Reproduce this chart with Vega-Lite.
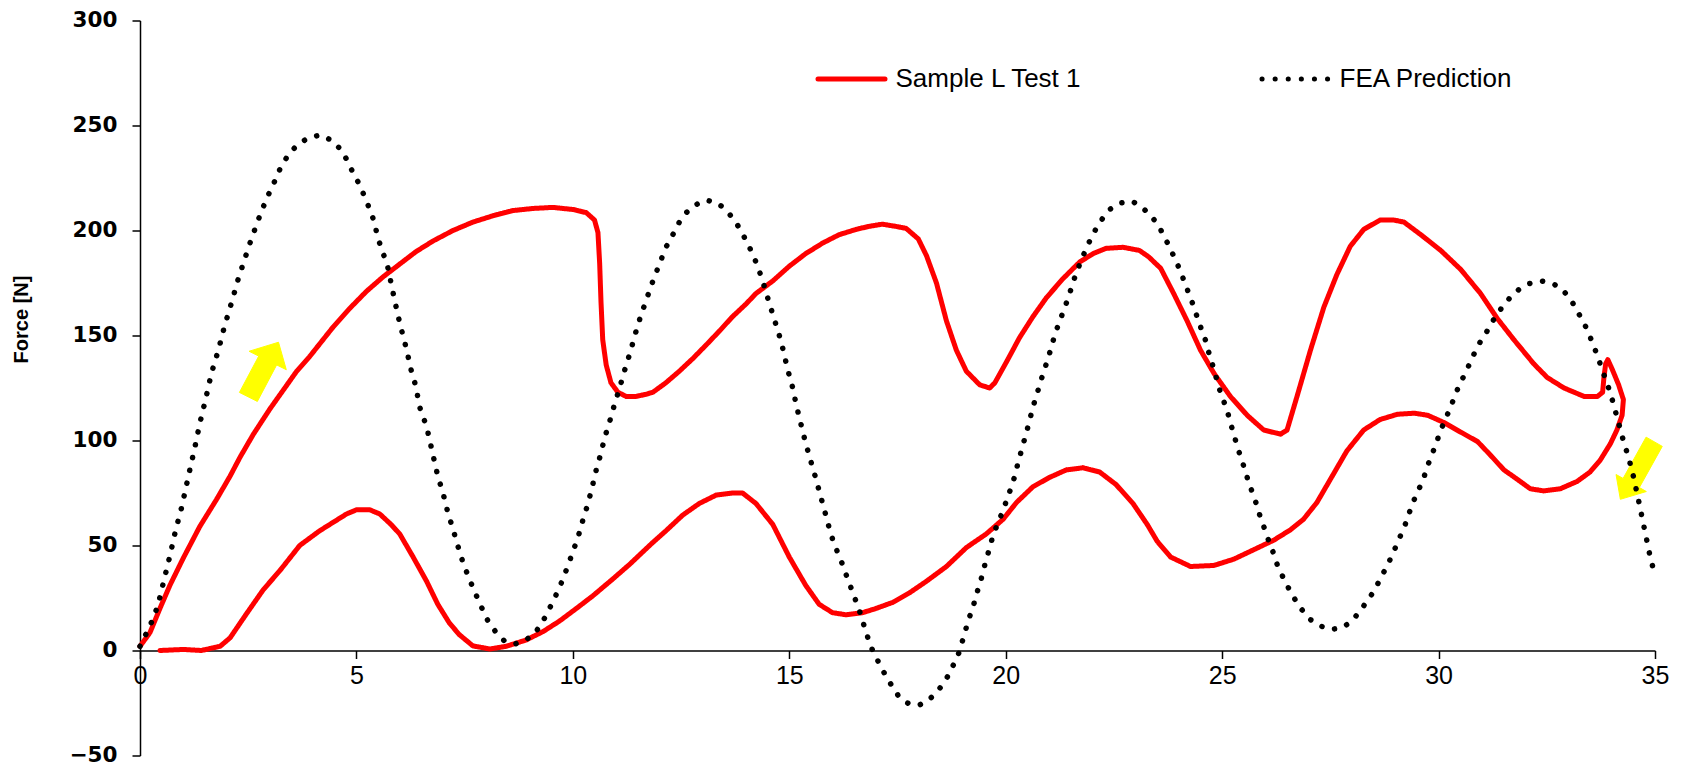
{
  "$schema": "https://vega.github.io/schema/vega-lite/v6.json",
  "width": 1515,
  "height": 735,
  "autosize": {"type": "none"},
  "padding": {"left": 140, "top": 20.5, "right": 36, "bottom": 23.5},
  "background": "white",
  "config": {"view": {"stroke": null}, "font": "Liberation Sans"},
  "datasets": {
    "red": [
      {"t":1,"x":0,"y":2},{"t":2,"x":0.23,"y":8.5},{"t":3,"x":0.46,"y":20},{"t":4,"x":0.69,"y":31},{"t":5,"x":1.0,"y":44},
      {"t":6,"x":1.38,"y":59},{"t":7,"x":1.77,"y":72},{"t":8,"x":2.08,"y":83},{"t":9,"x":2.31,"y":92},{"t":10,"x":2.62,"y":103},
      {"t":11,"x":3.0,"y":115},{"t":12,"x":3.31,"y":124},{"t":13,"x":3.62,"y":133},{"t":14,"x":3.92,"y":140},{"t":15,"x":4.19,"y":147},
      {"t":16,"x":4.46,"y":154},{"t":17,"x":4.85,"y":163},{"t":18,"x":5.23,"y":171},{"t":19,"x":5.62,"y":178},{"t":20,"x":6.0,"y":184},
      {"t":21,"x":6.38,"y":190},{"t":22,"x":6.77,"y":195},{"t":23,"x":7.23,"y":200},{"t":24,"x":7.69,"y":204},{"t":25,"x":8.15,"y":207},
      {"t":26,"x":8.62,"y":209.5},{"t":27,"x":9.08,"y":210.5},{"t":28,"x":9.54,"y":211},{"t":29,"x":10.0,"y":210},{"t":30,"x":10.31,"y":208.5},
      {"t":31,"x":10.5,"y":205},{"t":32,"x":10.58,"y":199},{"t":33,"x":10.62,"y":184},{"t":34,"x":10.65,"y":166},{"t":35,"x":10.69,"y":148},
      {"t":36,"x":10.77,"y":136},{"t":37,"x":10.88,"y":127.5},{"t":38,"x":11.04,"y":123},{"t":39,"x":11.23,"y":121},{"t":40,"x":11.46,"y":121},
      {"t":41,"x":11.69,"y":122},{"t":42,"x":11.85,"y":123},{"t":43,"x":12.15,"y":127.5},{"t":44,"x":12.46,"y":133},{"t":45,"x":12.77,"y":139},
      {"t":46,"x":13.08,"y":145.5},{"t":47,"x":13.38,"y":152},{"t":48,"x":13.69,"y":159},{"t":49,"x":14.0,"y":165},{"t":50,"x":14.23,"y":170},
      {"t":51,"x":14.62,"y":176},{"t":52,"x":15.0,"y":183},{"t":53,"x":15.38,"y":189},{"t":54,"x":15.77,"y":194},{"t":55,"x":16.15,"y":198},
      {"t":56,"x":16.54,"y":200.5},{"t":57,"x":16.85,"y":202},{"t":58,"x":17.15,"y":203},{"t":59,"x":17.45,"y":202},{"t":60,"x":17.7,"y":201},
      {"t":61,"x":17.98,"y":196},{"t":62,"x":18.17,"y":188},{"t":63,"x":18.4,"y":175},{"t":64,"x":18.63,"y":157},{"t":65,"x":18.86,"y":143},
      {"t":66,"x":19.09,"y":133},{"t":67,"x":19.4,"y":126.5},{"t":68,"x":19.63,"y":125},{"t":69,"x":19.75,"y":127.5},{"t":70,"x":20.02,"y":137.5},
      {"t":71,"x":20.32,"y":149},{"t":72,"x":20.63,"y":159},{"t":73,"x":20.94,"y":168},{"t":74,"x":21.32,"y":177},{"t":75,"x":21.71,"y":185},
      {"t":76,"x":22.02,"y":189},{"t":77,"x":22.32,"y":191.5},{"t":78,"x":22.71,"y":192},{"t":79,"x":23.09,"y":190.5},{"t":80,"x":23.3,"y":187.5},
      {"t":81,"x":23.58,"y":182},{"t":82,"x":23.88,"y":170},{"t":83,"x":24.19,"y":157},{"t":84,"x":24.5,"y":143},{"t":85,"x":24.81,"y":132},
      {"t":86,"x":25.19,"y":121},{"t":87,"x":25.58,"y":112},{"t":88,"x":25.96,"y":105},{"t":89,"x":26.35,"y":103},{"t":90,"x":26.5,"y":105},
      {"t":91,"x":26.73,"y":121},{"t":92,"x":27.04,"y":143},{"t":93,"x":27.35,"y":163.5},{"t":94,"x":27.65,"y":179},{"t":95,"x":27.96,"y":192.5},
      {"t":96,"x":28.27,"y":200.5},{"t":97,"x":28.65,"y":205},{"t":98,"x":28.96,"y":205},{"t":99,"x":29.2,"y":204},{"t":100,"x":29.59,"y":198},
      {"t":101,"x":30.05,"y":190.5},{"t":102,"x":30.51,"y":181.5},{"t":103,"x":30.97,"y":170},{"t":104,"x":31.36,"y":158},{"t":105,"x":31.74,"y":148},
      {"t":106,"x":32.2,"y":136.5},{"t":107,"x":32.51,"y":130},{"t":108,"x":32.9,"y":125},{"t":109,"x":33.36,"y":121},{"t":110,"x":33.67,"y":121},
      {"t":111,"x":33.79,"y":123},{"t":112,"x":33.82,"y":130},{"t":113,"x":33.86,"y":136.5},{"t":114,"x":33.91,"y":138.5},{"t":115,"x":34.01,"y":134},
      {"t":116,"x":34.16,"y":126.5},{"t":117,"x":34.27,"y":119.5},{"t":118,"x":34.24,"y":112},{"t":119,"x":34.12,"y":105},{"t":120,"x":33.97,"y":98.5},
      {"t":121,"x":33.73,"y":90.5},{"t":122,"x":33.5,"y":85},{"t":123,"x":33.2,"y":80.5},{"t":124,"x":32.81,"y":77},{"t":125,"x":32.43,"y":76},
      {"t":126,"x":32.12,"y":77},{"t":127,"x":31.82,"y":81.5},{"t":128,"x":31.51,"y":86},{"t":129,"x":31.2,"y":93},{"t":130,"x":30.9,"y":99.5},
      {"t":131,"x":30.51,"y":104},{"t":132,"x":30.13,"y":108.5},{"t":133,"x":29.75,"y":112},{"t":134,"x":29.44,"y":113},{"t":135,"x":29.05,"y":112.5},
      {"t":136,"x":28.65,"y":110},{"t":137,"x":28.27,"y":105},{"t":138,"x":27.88,"y":95},{"t":139,"x":27.5,"y":81.5},{"t":140,"x":27.19,"y":70.5},
      {"t":141,"x":26.88,"y":62.5},{"t":142,"x":26.58,"y":57.5},{"t":143,"x":26.19,"y":52.5},{"t":144,"x":25.73,"y":48},{"t":145,"x":25.27,"y":43.5},
      {"t":146,"x":24.81,"y":40.5},{"t":147,"x":24.27,"y":40},{"t":148,"x":23.81,"y":44.5},{"t":149,"x":23.5,"y":52},{"t":150,"x":23.27,"y":60},
      {"t":151,"x":22.94,"y":70},{"t":152,"x":22.55,"y":79},{"t":153,"x":22.17,"y":85},{"t":154,"x":21.78,"y":87},{"t":155,"x":21.4,"y":86},
      {"t":156,"x":21.02,"y":82.5},{"t":157,"x":20.63,"y":78},{"t":158,"x":20.25,"y":70.5},{"t":159,"x":19.94,"y":62.5},{"t":160,"x":19.55,"y":55.5},
      {"t":161,"x":19.09,"y":49},{"t":162,"x":18.63,"y":40},{"t":163,"x":18.17,"y":33},{"t":164,"x":17.78,"y":27.5},{"t":165,"x":17.4,"y":23},
      {"t":166,"x":17.0,"y":20},{"t":167,"x":16.69,"y":18},{"t":168,"x":16.31,"y":17},{"t":169,"x":16.0,"y":18},{"t":170,"x":15.69,"y":22},
      {"t":171,"x":15.38,"y":31},{"t":172,"x":15.0,"y":44.5},{"t":173,"x":14.62,"y":60},{"t":174,"x":14.23,"y":70},{"t":175,"x":13.92,"y":75},
      {"t":176,"x":13.69,"y":75},{"t":177,"x":13.31,"y":74},{"t":178,"x":12.92,"y":70},{"t":179,"x":12.54,"y":64.5},{"t":180,"x":12.15,"y":57},
      {"t":181,"x":11.85,"y":51.5},{"t":182,"x":11.54,"y":45.5},{"t":183,"x":11.31,"y":41},{"t":184,"x":10.92,"y":34},{"t":185,"x":10.46,"y":26},
      {"t":186,"x":10.08,"y":20},{"t":187,"x":9.69,"y":14},{"t":188,"x":9.31,"y":9},{"t":189,"x":8.92,"y":5},{"t":190,"x":8.46,"y":2},
      {"t":191,"x":8.08,"y":0.7},{"t":192,"x":7.69,"y":2.2},{"t":193,"x":7.38,"y":7.5},{"t":194,"x":7.15,"y":13},{"t":195,"x":6.88,"y":22},
      {"t":196,"x":6.62,"y":33},{"t":197,"x":6.31,"y":44.5},{"t":198,"x":6.0,"y":55.5},{"t":199,"x":5.8,"y":60},{"t":200,"x":5.54,"y":65},
      {"t":201,"x":5.31,"y":67},{"t":202,"x":5.0,"y":67},{"t":203,"x":4.77,"y":65},{"t":204,"x":4.46,"y":61},{"t":205,"x":4.15,"y":57},
      {"t":206,"x":3.69,"y":50},{"t":207,"x":3.23,"y":38},{"t":208,"x":2.85,"y":29},{"t":209,"x":2.46,"y":17.5},{"t":210,"x":2.08,"y":6},
      {"t":211,"x":1.85,"y":2},{"t":212,"x":1.42,"y":0},{"t":213,"x":1.0,"y":0.5},{"t":214,"x":0.46,"y":0}
    ],
    "fea": [
      {"x":0,"y":2},{"x":0.19,"y":10},{"x":0.32,"y":16},{"x":0.42,"y":22},{"x":0.56,"y":34},{"x":0.69,"y":45},{"x":0.82,"y":57},{"x":0.96,"y":68},
      {"x":1.14,"y":85},{"x":1.27,"y":97},{"x":1.38,"y":108},{"x":1.52,"y":120},{"x":1.65,"y":132},{"x":1.81,"y":143},{"x":1.96,"y":155},{"x":2.12,"y":166},
      {"x":2.27,"y":177},{"x":2.54,"y":194},{"x":2.73,"y":205},{"x":2.92,"y":215},{"x":3.08,"y":222},{"x":3.27,"y":231},{"x":3.46,"y":237},{"x":3.65,"y":241},
      {"x":3.88,"y":244},{"x":4.17,"y":245.5},{"x":4.42,"y":243},{"x":4.62,"y":239},{"x":4.77,"y":234},{"x":4.91,"y":228},{"x":5.04,"y":223},{"x":5.15,"y":218},
      {"x":5.27,"y":212},{"x":5.38,"y":206},{"x":5.52,"y":195},{"x":5.6,"y":190},{"x":5.71,"y":184},{"x":5.81,"y":174},{"x":5.88,"y":167},{"x":6.0,"y":156},
      {"x":6.15,"y":144},{"x":6.27,"y":133},{"x":6.37,"y":126},{"x":6.46,"y":116},{"x":6.58,"y":109},{"x":6.65,"y":104},{"x":6.77,"y":93},{"x":6.88,"y":83},
      {"x":7.0,"y":75},{"x":7.12,"y":65},{"x":7.23,"y":58},{"x":7.31,"y":52},{"x":7.46,"y":42},{"x":7.58,"y":35.5},{"x":7.71,"y":29},{"x":7.88,"y":21},
      {"x":8.04,"y":14},{"x":8.23,"y":8.5},{"x":8.42,"y":4.5},{"x":8.65,"y":3},{"x":8.92,"y":5},{"x":9.15,"y":9},{"x":9.31,"y":14},{"x":9.46,"y":20},
      {"x":9.58,"y":25},{"x":9.73,"y":32},{"x":9.88,"y":40},{"x":10.0,"y":47},{"x":10.12,"y":54},{"x":10.23,"y":62},{"x":10.35,"y":70},{"x":10.46,"y":79},
      {"x":10.54,"y":86},{"x":10.65,"y":94},{"x":10.73,"y":101},{"x":10.85,"y":109},{"x":10.96,"y":117},{"x":11.08,"y":125},{"x":11.19,"y":133},{"x":11.31,"y":141},
      {"x":11.42,"y":149},{"x":11.5,"y":155},{"x":11.68,"y":166},{"x":11.85,"y":176},{"x":12.0,"y":184},{"x":12.15,"y":192},{"x":12.31,"y":198},{"x":12.46,"y":204},
      {"x":12.62,"y":208.5},{"x":12.81,"y":212},{"x":13.08,"y":214.5},{"x":13.35,"y":213},{"x":13.55,"y":209.5},{"x":13.73,"y":205},{"x":13.88,"y":200},{"x":14.02,"y":194.5},
      {"x":14.15,"y":189},{"x":14.25,"y":184},{"x":14.37,"y":177},{"x":14.5,"y":168},{"x":14.62,"y":160},{"x":14.77,"y":150},{"x":14.86,"y":143},{"x":14.96,"y":134},
      {"x":15.08,"y":125},{"x":15.15,"y":118},{"x":15.23,"y":111},{"x":15.31,"y":104.5},{"x":15.38,"y":98.5},{"x":15.46,"y":93},{"x":15.54,"y":87},{"x":15.62,"y":81.5},
      {"x":15.69,"y":76},{"x":15.77,"y":70},{"x":15.85,"y":64},{"x":15.92,"y":58.5},{"x":16.0,"y":53},{"x":16.12,"y":46.5},{"x":16.23,"y":41},{"x":16.35,"y":34},
      {"x":16.46,"y":28},{"x":16.62,"y":19},{"x":16.77,"y":9},{"x":16.88,"y":2},{"x":17.0,"y":-3},{"x":17.12,"y":-8},{"x":17.27,"y":-13.5},{"x":17.42,"y":-18.5},
      {"x":17.55,"y":-22.5},{"x":17.78,"y":-25.6},{"x":18.0,"y":-26},{"x":18.2,"y":-24},{"x":18.4,"y":-20},{"x":18.55,"y":-16},{"x":18.67,"y":-12},{"x":18.8,"y":-6.5},
      {"x":18.92,"y":-1},{"x":19.05,"y":8},{"x":19.13,"y":14},{"x":19.25,"y":21},{"x":19.32,"y":26.5},{"x":19.42,"y":33},{"x":19.52,"y":41},{"x":19.63,"y":49},
      {"x":19.72,"y":55.7},{"x":19.85,"y":62},{"x":19.94,"y":67},{"x":20.05,"y":73},{"x":20.13,"y":78},{"x":20.21,"y":83},{"x":20.28,"y":89},{"x":20.36,"y":95},
      {"x":20.44,"y":101},{"x":20.52,"y":107},{"x":20.63,"y":116},{"x":20.72,"y":122},{"x":20.82,"y":129},{"x":20.9,"y":134},{"x":21.02,"y":142},{"x":21.13,"y":150},
      {"x":21.23,"y":156},{"x":21.36,"y":163},{"x":21.46,"y":169},{"x":21.6,"y":178},{"x":21.71,"y":184},{"x":21.83,"y":190},{"x":21.94,"y":195},{"x":22.08,"y":200.6},
      {"x":22.24,"y":205.8},{"x":22.4,"y":210},{"x":22.63,"y":213},{"x":22.92,"y":214},{"x":23.15,"y":211},{"x":23.36,"y":207},{"x":23.54,"y":202},{"x":23.65,"y":197.5},
      {"x":23.79,"y":192},{"x":23.92,"y":186},{"x":24.02,"y":181.5},{"x":24.12,"y":176},{"x":24.23,"y":170},{"x":24.33,"y":164.6},{"x":24.42,"y":159},{"x":24.52,"y":153},
      {"x":24.62,"y":147.5},{"x":24.69,"y":142},{"x":24.77,"y":136.6},{"x":24.85,"y":131},{"x":24.92,"y":125.5},{"x":25.02,"y":119.7},{"x":25.12,"y":114},{"x":25.19,"y":108.5},
      {"x":25.27,"y":103},{"x":25.35,"y":97},{"x":25.45,"y":91},{"x":25.54,"y":85},{"x":25.62,"y":79.7},{"x":25.72,"y":74},{"x":25.81,"y":68.7},{"x":25.88,"y":63.6},
      {"x":25.98,"y":58},{"x":26.08,"y":52},{"x":26.18,"y":46.7},{"x":26.27,"y":41},{"x":26.38,"y":36},{"x":26.5,"y":31},{"x":26.65,"y":25.4},{"x":26.82,"y":20},
      {"x":27.02,"y":15},{"x":27.23,"y":12},{"x":27.5,"y":10},{"x":27.77,"y":10.8},{"x":28.0,"y":14},{"x":28.19,"y":19},{"x":28.35,"y":23.5},{"x":28.52,"y":28.7},
      {"x":28.65,"y":34},{"x":28.79,"y":39.5},{"x":28.92,"y":45},{"x":29.04,"y":50.8},{"x":29.23,"y":60},{"x":29.33,"y":66},{"x":29.44,"y":72},{"x":29.56,"y":77.5},
      {"x":29.67,"y":83},{"x":29.76,"y":88.7},{"x":29.86,"y":94},{"x":29.96,"y":99.5},{"x":30.05,"y":105},{"x":30.17,"y":110.7},{"x":30.28,"y":116},{"x":30.38,"y":121.5},
      {"x":30.48,"y":126.5},{"x":30.63,"y":132.5},{"x":30.74,"y":137.7},{"x":30.86,"y":143},{"x":30.99,"y":148},{"x":31.15,"y":153},{"x":31.3,"y":158.6},{"x":31.47,"y":163.5},
      {"x":31.65,"y":168},{"x":31.86,"y":172},{"x":32.09,"y":174.7},{"x":32.37,"y":176},{"x":32.65,"y":174.7},{"x":32.88,"y":171.4},{"x":33.06,"y":167},{"x":33.2,"y":161.7},
      {"x":33.34,"y":156.8},{"x":33.47,"y":151},{"x":33.57,"y":145.6},{"x":33.68,"y":140},{"x":33.77,"y":134},{"x":33.87,"y":128.7},{"x":33.96,"y":123},{"x":34.04,"y":117.5},
      {"x":34.11,"y":112},{"x":34.19,"y":106},{"x":34.26,"y":100.6},{"x":34.35,"y":94.5},{"x":34.42,"y":89.5},{"x":34.5,"y":83},{"x":34.6,"y":73.5},{"x":34.7,"y":63.5},
      {"x":34.8,"y":53.5},{"x":34.9,"y":43.5},{"x":35.0,"y":36}
    ],
    "arrows": [
      {"arrow":"a","k":1,"x":3.2,"y":146.8},{"arrow":"a","k":2,"x":3.38,"y":133.7},{"arrow":"a","k":3,"x":3.157,"y":136.0},
      {"arrow":"a","k":4,"x":2.711,"y":118.6},{"arrow":"a","k":5,"x":2.297,"y":122.9},{"arrow":"a","k":6,"x":2.743,"y":140.2},
      {"arrow":"a","k":7,"x":2.52,"y":142.5},{"arrow":"a","k":8,"x":3.2,"y":146.8},
      {"arrow":"b","k":1,"x":34.2,"y":72.0},{"arrow":"b","k":2,"x":34.1,"y":83.8},{"arrow":"b","k":3,"x":34.263,"y":81.95},
      {"arrow":"b","k":4,"x":34.794,"y":101.6},{"arrow":"b","k":5,"x":35.168,"y":97.2},{"arrow":"b","k":6,"x":34.639,"y":77.6},
      {"arrow":"b","k":7,"x":34.8,"y":75.7},{"arrow":"b","k":8,"x":34.2,"y":72.0}
    ]
  },
  "encoding": {
    "x": {
      "field": "x", "type": "quantitative",
      "scale": {"domain": [0, 35], "nice": false, "zero": false},
      "axis": {
        "values": [0, 5, 10, 15, 20, 25, 30, 35], "orient": "bottom", "offset": -105, "grid": false,
        "domainColor": "black", "domainWidth": 1.5, "tickColor": "black", "tickWidth": 1.5, "tickSize": 8,
        "labelFont": "Liberation Sans", "labelFontSize": 25, "labelColor": "black", "labelPadding": 5,
        "labelFlush": false, "labelOverlap": false, "labelBound": false, "title": null
      }
    },
    "y": {
      "field": "y", "type": "quantitative",
      "scale": {"domain": [-50, 300], "nice": false, "zero": false},
      "axis": {
        "values": [-50, 0, 50, 100, 150, 200, 250, 300], "grid": false,
        "domainColor": "black", "domainWidth": 1.5, "tickColor": "black", "tickWidth": 1.5, "tickSize": 8,
        "labelFont": "DejaVu Sans", "labelFontWeight": "bold", "labelFontSize": 21.5, "labelColor": "black", "labelPadding": 15,
        "labelFlush": false, "labelOverlap": false, "labelBound": false,
        "title": "Force [N]", "titleFont": "Liberation Sans", "titleFontSize": 20, "titleFontWeight": "bold", "titleColor": "black",
        "titleX": -119, "titleY": 298.5, "titleAngle": -90, "titleAlign": "center", "titleBaseline": "middle"
      }
    }
  },
  "layer": [
    {
      "data": {"name": "arrows"},
      "mark": {"type": "line", "filled": true, "fill": "#ffff00", "stroke": "#ffff00", "strokeWidth": 1, "strokeJoin": "miter"},
      "encoding": {
        "detail": {"field": "arrow", "type": "nominal"},
        "order": {"field": "k", "type": "quantitative"}
      }
    },
    {
      "data": {"name": "red"},
      "mark": {"type": "line", "strokeWidth": 5, "strokeCap": "round", "strokeJoin": "round"},
      "encoding": {
        "color": {
          "datum": "Sample L Test 1", "type": "nominal",
          "scale": {"domain": ["Sample L Test 1", "FEA Prediction"], "range": ["#ff0000", "#000000"]},
          "legend": {
            "orient": "none", "legendX": 675.5, "legendY": 22.5, "direction": "horizontal", "title": null,
            "symbolType": "stroke", "symbolSize": 4489, "symbolStrokeWidth": 5,
            "labelFont": "Liberation Sans", "labelFontSize": 26, "labelColor": "black", "labelOffset": 8, "labelLimit": 400,
            "columnPadding": 169, "padding": 0,
            "encoding": {"symbols": {"strokeCap": {"value": "round"}}}
          }
        },
        "strokeDash": {
          "datum": "Sample L Test 1", "type": "nominal",
          "scale": {"domain": ["Sample L Test 1", "FEA Prediction"], "range": [[1, 0], [0.1, 13]]},
          "legend": {
            "orient": "none", "legendX": 675.5, "legendY": 22.5, "direction": "horizontal", "title": null,
            "symbolType": "stroke", "symbolSize": 4489, "symbolStrokeWidth": 5,
            "labelFont": "Liberation Sans", "labelFontSize": 26, "labelColor": "black", "labelOffset": 8, "labelLimit": 400,
            "columnPadding": 169, "padding": 0,
            "encoding": {"symbols": {"strokeCap": {"value": "round"}}}
          }
        },
        "order": {"field": "t", "type": "quantitative"}
      }
    },
    {
      "data": {"name": "fea"},
      "mark": {"type": "line", "strokeWidth": 5.5, "strokeCap": "round", "strokeJoin": "round"},
      "encoding": {
        "color": {"datum": "FEA Prediction", "type": "nominal"},
        "strokeDash": {"datum": "FEA Prediction", "type": "nominal"}
      }
    }
  ]
}
